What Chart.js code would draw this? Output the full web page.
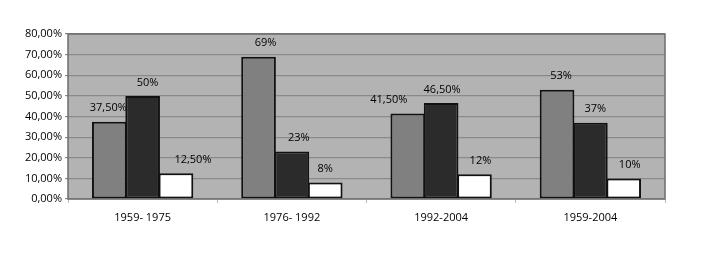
<!DOCTYPE html>
<html>
<head>
<meta charset="utf-8">
<script src="https://cdn.jsdelivr.net/npm/chart.js@4/dist/chart.umd.min.js"></script>
<style>
  html, body { margin: 0; padding: 0; background: #fff; }
  #wrap { width: 702px; height: 254px; }
</style>
</head>
<body>
<div id="wrap"><canvas id="myChart" width="702" height="254"></canvas></div>
<script>
var periods = ['1959- 1975', '1976- 1992', '1992-2004', '1959-2004'];
var seriesA = [37.5, 69, 41.5, 53];
var seriesB = [50, 23, 46.5, 37];
var seriesC = [12.5, 8, 12, 10];

function pct(v, forceDecimals) {
    if (forceDecimals || v % 1 !== 0) return v.toFixed(2).replace('.', ',') + '%';
    return v + '%';
}

// grey plot background + frame
var plotBg = {
    id: 'plotBg',
    beforeDraw: function(chart) {
        var a = chart.chartArea, c = chart.ctx;
        c.save();
        c.fillStyle = '#b3b3b3';
        c.fillRect(a.left, a.top, a.right - a.left, a.bottom - a.top);
        c.restore();
    },
    afterDraw: function(chart) {
        var a = chart.chartArea, c = chart.ctx;
        c.save();
        c.strokeStyle = '#6e6e6e';
        c.lineWidth = 1.5;
        c.strokeRect(a.left, a.top, a.right - a.left, a.bottom - a.top);
        c.restore();
    }
};

// value labels, drawn under the bars like the original
var valueLabels = {
    id: 'valueLabels',
    beforeDatasetsDraw: function(chart, args, opts) {
        var c = chart.ctx;
        c.save();
        c.font = '11px "Open Sans"';
        c.fillStyle = '#000';
        c.textAlign = 'center';
        c.textBaseline = 'middle';
        chart.data.datasets.forEach(function(ds, i) {
            var meta = chart.getDatasetMeta(i);
            meta.data.forEach(function(bar, j) {
                var p = bar.getProps(['x', 'y'], true);
                var dx = (opts.nudgeX[i] || [])[j] || 0;
                c.fillText(pct(ds.data[j]), p.x + dx, p.y - 13.5);
            });
        });
        c.restore();
    }
};

var tickFont = { family: 'Open Sans', size: 11 };

var ctx = document.getElementById('myChart').getContext('2d');
var myChart = new Chart(ctx, {
    type: 'bar',
    data: {
        labels: periods,
        datasets: [{
            label: 'A',
            data: seriesA,
            backgroundColor: '#808080'
        },
        {
            label: 'B',
            data: seriesB,
            backgroundColor: '#2b2b2b'
        },
        {
            label: 'C',
            data: seriesC,
            backgroundColor: '#ffffff'
        }]
    },
    options: {
        responsive: false,
        animation: false,
        events: [],
        layout: {
            padding: { top: 34, right: 37, bottom: 0, left: 0 }
        },
        datasets: {
            bar: {
                categoryPercentage: 0.67,
                barPercentage: 1.04,
                borderColor: '#111',
                borderWidth: 2,
                borderSkipped: false
            }
        },
        plugins: {
            legend: { display: false },
            tooltip: { enabled: false },
            valueLabels: {
                // small sideways shifts of some labels, as placed in the original
                nudgeX: [[-1, 7, -19, 4], [5, 7, 1, 5], [17, 0, 6, 6]]
            }
        },
        scales: {
            x: {
                afterFit: function(axis) { axis.height = 55; },
                grid: {
                    display: true,
                    drawOnChartArea: false,
                    offset: true,
                    tickLength: 4,
                    color: '#bbb'
                },
                border: { display: false },
                ticks: {
                    padding: 8,
                    color: '#000',
                    font: tickFont
                }
            },
            y: {
                min: 0,
                max: 80,
                afterFit: function(axis) { axis.width = 68; },
                grid: {
                    color: '#8a8a8a',
                    lineWidth: 1.2,
                    tickLength: 3
                },
                border: { display: false },
                ticks: {
                    stepSize: 10,
                    padding: 3,
                    color: '#000',
                    font: tickFont,
                    callback: function(v) { return pct(v, true); }
                }
            }
        }
    },
    plugins: [plotBg, valueLabels]
});
</script>
</body>
</html>
